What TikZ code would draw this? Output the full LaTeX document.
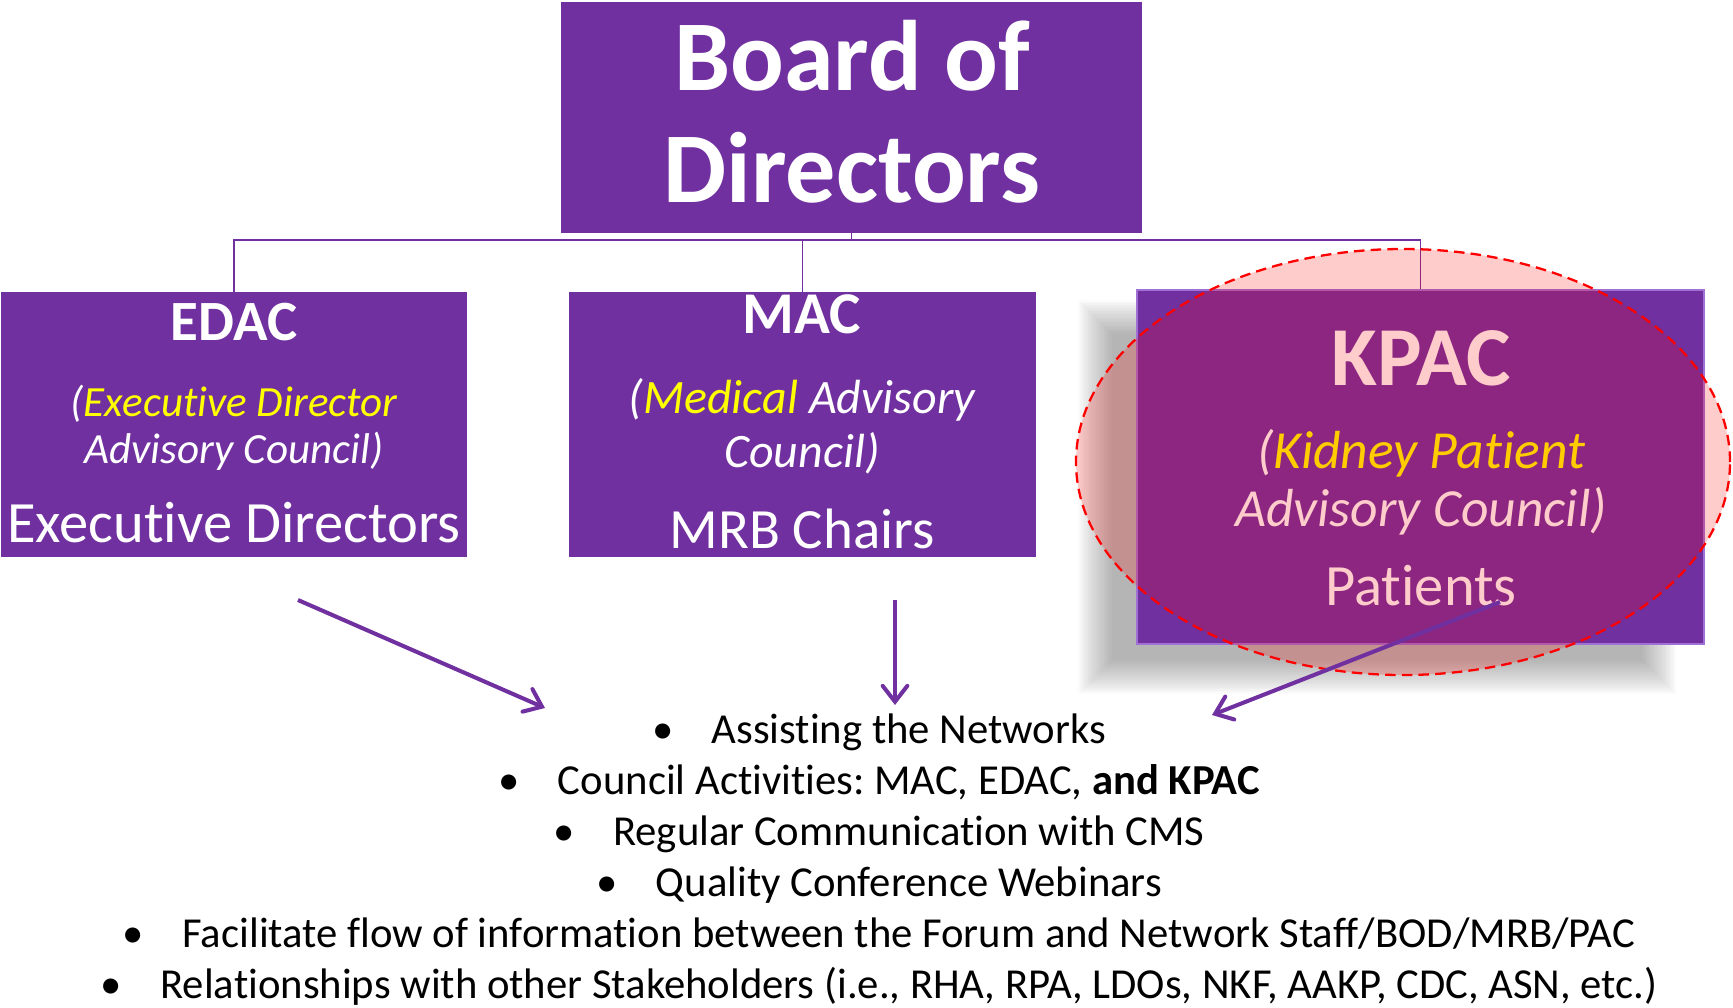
\documentclass[tikz,border=0pt]{standalone}
\usepackage{fontspec}
\setmainfont{Carlito}[Ligatures=NoCommon]
\frenchspacing
\usetikzlibrary{arrows.meta,shapes.geometric}
\definecolor{kpurple}{RGB}{112,48,160}
\definecolor{kbevel}{RGB}{160,112,212}
\definecolor{kyellow}{RGB}{255,255,0}

\begin{document}
\begin{tikzpicture}
  [x=0.2mm,y=-0.2mm,
   box/.style={shape=rectangle, fill=kpurple, inner sep=0pt},
   words/.style={text=white, anchor=base, inner sep=0pt, align=center},
   tree/.style={draw=kpurple, line width=1.1pt}]
  \useasboundingbox (0,0) rectangle (1733,1007);

  % boxes
  \node[box, minimum width=116.2mm, minimum height=46.2mm] (board) at (851.5,117.5) {};
  \node[box, minimum width=93.2mm, minimum height=53mm] (edac) at (234,424.5) {};
  \node[box, minimum width=93.4mm, minimum height=53mm] (mac) at (802.5,424.5) {};

  % shadow and box for KPAC
  \foreach \i in {0,...,21}
    \fill[black, opacity=0.017] (1078+1.6*\i,300+1.6*\i) rectangle (1676-1.6*\i,694-1.6*\i);
  \node[box, draw=kbevel, line width=1.5pt, minimum width=113.4mm, minimum height=70.8mm] (kpac) at (1420.5,467) {};

  % tree
  \coordinate (bus) at (851.5,240);
  \foreach \to in {edac,mac,kpac}
    \draw[tree] (board.south) -- (bus) -| (\to.north);

  % texts (multi-line nodes sit on their last baseline)
  \node[words, font=\bfseries\fontsize{57}{63.7}\selectfont] (boardname) at (852,202) {Board of\\Directors};

  \node[words, font=\bfseries\fontsize{32.4}{36}\selectfont] (edactitle) at (234,340) {EDAC};
  \node[words, font=\itshape\fontsize{24.5}{26.2}\selectfont] (edacfull) at (234,463)
    {(\textcolor{kyellow}{Executive Director}\\Advisory Council)};
  \node[words, font=\fontsize{33.3}{38}\selectfont] (edacwho) at (234,542) {Executive Directors};

  \node[words, font=\bfseries\fontsize{33.7}{36}\selectfont] (mactitle) at (802,333) {MAC};
  \node[words, font=\itshape\fontsize{27.3}{30.7}\selectfont] (macfull) at (802,467)
    {(\textcolor{kyellow}{Medical} Advisory\\Council)};
  \node[words, font=\fontsize{32.4}{36}\selectfont] (macwho) at (802,548) {MRB Chairs};

  \node[words, font=\bfseries\fontsize{47.7}{52}\selectfont] (kpactitle) at (1421,385) {KPAC};
  \node[words, font=\itshape\fontsize{30.5}{33}\selectfont] (kpacfull) at (1421,526)
    {(\textcolor{kyellow}{Kidney Patient}\\Advisory Council)};
  \node[words, font=\fontsize{33.3}{36}\selectfont] (kpacwho) at (1421,605) {Patients};

  % highlight
  \node[ellipse, draw=red, line width=1.3pt, dash pattern=on 6pt off 3.5pt,
    fill=red, fill opacity=0.2, inner sep=0pt,
    minimum width=130.8mm, minimum height=85.2mm] (focus) at (1403,462) {};

  % tasks
  \node[words, text=black, font=\fontsize{24.3}{29}\selectfont] (tasks) at (879,998)
    {•\hspace{0.9em}Assisting the Networks\\
     •\hspace{0.9em}Council Activities: MAC, EDAC, \textbf{and KPAC}\\
     •\hspace{0.9em}Regular Communication with CMS\\
     •\hspace{0.9em}Quality Conference Webinars\\
     •\hspace{0.9em}Facilitate flow of information between the Forum and Network Staff/BOD/MRB/PAC\\
     •\hspace{0.9em}Relationships with other Stakeholders (i.e., RHA, RPA, LDOs, NKF, AAKP, CDC, ASN, etc.)};

  \coordinate (edacfrom) at (298,600);
  \coordinate (edacto) at (545,708);
  \coordinate (macfrom) at (895,600);
  \coordinate (macto) at (895,705);
  \coordinate (kpacfrom) at (1500,602);
  \coordinate (kpacto) at (1212,715);
  \begin{scope}[line width=2.3pt, draw=kpurple, -{Straight Barb[length=9pt,width=14pt,line cap=round]}]
  \foreach \from/\to in {edacfrom/edacto,macfrom/macto,kpacfrom/kpacto}
     \draw (\from) -- (\to);
  \end{scope}
\end{tikzpicture}
\end{document}
